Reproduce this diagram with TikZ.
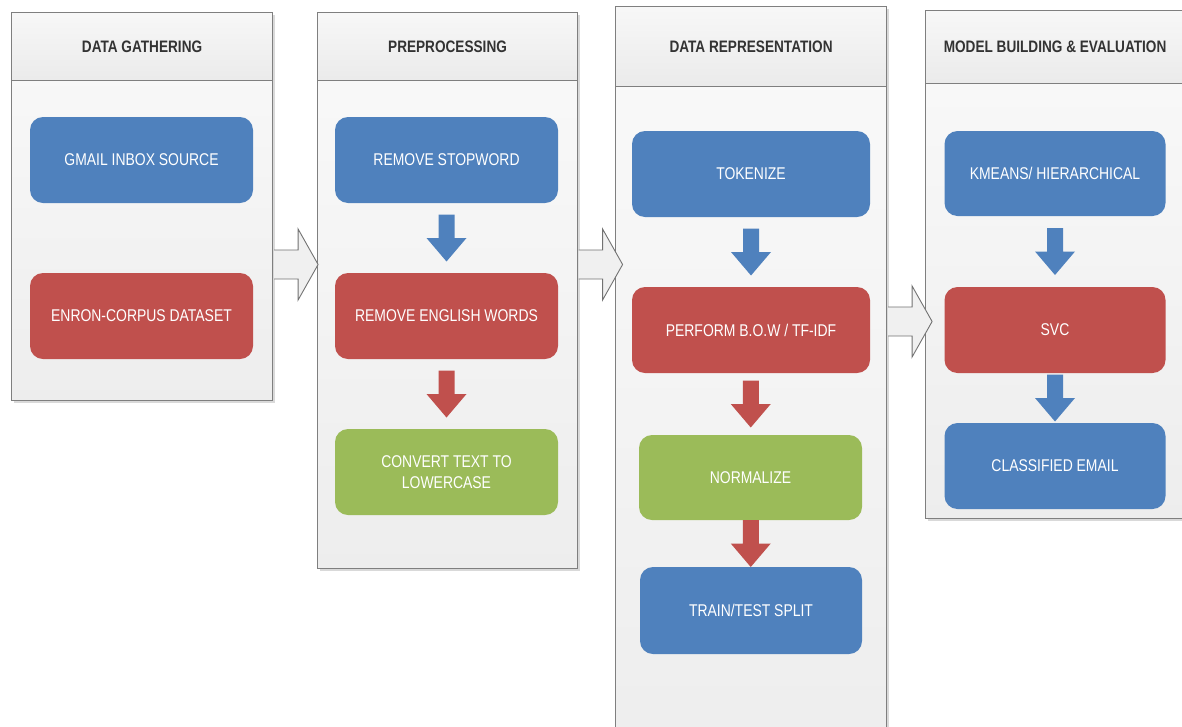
\documentclass[tikz,border=0pt]{standalone}
\usepackage{fontspec}
\setmainfont{Liberation Sans}[FakeStretch=0.82]
\usetikzlibrary{calc,shadows}
\definecolor{cblue}{HTML}{4F81BD}
\definecolor{cred}{HTML}{C0504D}
\definecolor{cgreen}{HTML}{9BBB59}
\definecolor{cedge}{HTML}{7F7F7F}
\definecolor{ctext}{HTML}{333333}
\tikzset{
  colbody/.style={draw=cedge, line width=1.1pt, top color=white!98!black, bottom color=white!93!black,
    anchor=north west, inner sep=0pt,
    drop shadow={shadow xshift=2.5pt, shadow yshift=-2.5pt, opacity=0.15, fill=black}},
  colhead/.style={draw=cedge, line width=1.1pt, top color=white!97!black, bottom color=white!92!black,
    anchor=north west, inner sep=0pt, text=ctext, font=\fontsize{16.6}{20}\selectfont\bfseries},
  proc/.style={rounded corners=13pt, inner sep=0pt, text=white, font=\fontsize{17}{21}\selectfont,
    align=center, minimum width=223pt, minimum height=86pt},
  pblue/.style={proc, fill=cblue},
  pred/.style={proc, fill=cred},
  pgreen/.style={proc, fill=cgreen},
  bigarr/.style={draw=cedge!90!black, line width=0.9pt, fill=white!94!black, line join=miter}
}
\newcommand\flowarrow[3]{%
  \coordinate (fm) at ($(#1.south)!0.5!(#2.north)$);
  \fill[#3] ($(fm)+(-8,-23.5)$) -- ($(fm)+(8,-23.5)$) -- ($(fm)+(8,0)$) -- ($(fm)+(20,0)$)
    -- ($(fm)+(0,23.5)$) -- ($(fm)+(-20,0)$) -- ($(fm)+(-8,0)$) -- cycle;}
\newcommand\bigarrow[1]{%
  \filldraw[bigarr] ($(#1)+(0,-14.5)$) -- ($(#1)+(24,-14.5)$) -- ($(#1)+(24,-35.5)$) -- ($(#1)+(44,0)$)
    -- ($(#1)+(24,35.5)$) -- ($(#1)+(24,14.5)$) -- ($(#1)+(0,14.5)$);}
\begin{document}
\begin{tikzpicture}[x=1pt, y=-1pt]
\useasboundingbox (0,0) rectangle (1182,726);
\clip (0,0) rectangle (1182,726);
% columns
\node[colbody, minimum width=261pt, minimum height=388pt] (c1) at (11,12) {};
\node[colhead, minimum width=261pt, minimum height=68pt] (h1) at (11,12) {DATA GATHERING};
\node[colbody, minimum width=260pt, minimum height=556pt] (c2) at (317,12) {};
\node[colhead, minimum width=260pt, minimum height=68pt] (h2) at (317,12) {PREPROCESSING};
\node[colbody, minimum width=271pt, minimum height=760pt] (c3) at (615,6) {};
\node[colhead, minimum width=271pt, minimum height=80pt] (h3) at (615,6) {DATA REPRESENTATION};
\node[colbody, minimum width=259pt, minimum height=508pt] (c4) at (925,10) {};
\node[colhead, minimum width=259pt, minimum height=73pt] (h4) at (925,10) {MODEL BUILDING \& EVALUATION};
% big arrows between columns
\coordinate (s1) at ([xshift=1pt]c1.east |- 0,264.5);
\coordinate (s2) at ([xshift=0.5pt]c2.east |- 0,264.5);
\coordinate (s3) at ([xshift=1pt]c3.east |- 0,321.5);
\bigarrow{s1}
\bigarrow{s2}
\bigarrow{s3}
% boxes
\node[pblue] (g1) at (141.5,160) {GMAIL INBOX SOURCE};
\node[pred]  (g2) at (141.5,316) {ENRON-CORPUS DATASET};
\node[pblue] (p1) at (446.5,160) {REMOVE STOPWORD};
\node[pred]  (p2) at (446.5,316) {REMOVE ENGLISH WORDS};
\node[pgreen] (p3) at (446.5,472) {CONVERT TEXT TO\\LOWERCASE};
\node[pblue, minimum width=238pt] (r1) at (751,174) {TOKENIZE};
\node[pred, minimum width=238pt]  (r2) at (751,330) {PERFORM B.O.W / TF-IDF};
\node[pgreen, minimum width=223pt, minimum height=85pt] (r3) at (750.5,477.5) {NORMALIZE};
\node[pblue, minimum width=222pt, minimum height=87pt] (r4) at (751,610.5) {TRAIN/TEST SPLIT};
\node[pblue, minimum width=221pt, minimum height=85pt] (m1) at (1055,173.5) {KMEANS/ HIERARCHICAL};
\node[pred, minimum width=221pt] (m2) at (1055,330) {SVC};
\node[pblue, minimum width=221pt] (m3) at (1055,466) {CLASSIFIED EMAIL};
% flow arrows
\flowarrow{p1}{p2}{cblue}
\flowarrow{p2}{p3}{cred}
\flowarrow{r1}{r2}{cblue}
\flowarrow{r2}{r3}{cred}
\flowarrow{r3}{r4}{cred}
\flowarrow{m1}{m2}{cblue}
\flowarrow{m2}{m3}{cblue}
\end{tikzpicture}
\end{document}
